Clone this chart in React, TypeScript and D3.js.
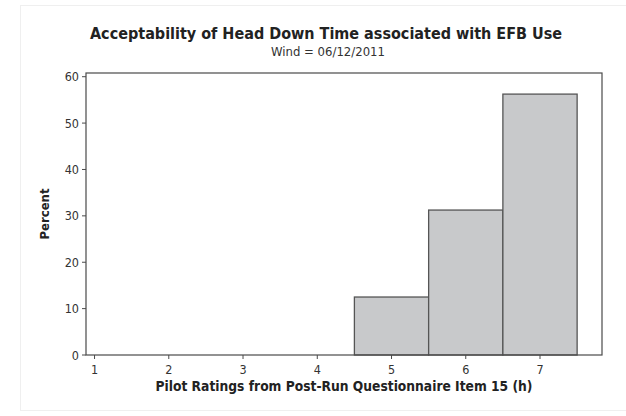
import React from "react";
import * as d3 from "d3";

const categories = [1, 2, 3, 4, 5, 6, 7];
const percents = [0, 0, 0, 0, 12.5, 31.25, 56.25];
const yTicks = [0, 10, 20, 30, 40, 50, 60];
const title = "Acceptability of Head Down Time associated with EFB Use";
const subtitle = "Wind = 06/12/2011";
const xLabel = "Pilot Ratings from Post-Run Questionnaire Item 15 (h)";
const yLabel = "Percent";

const W = 626;
const H = 416;
const plot = { left: 86, right: 602, top: 73, bottom: 355 };
const FONT = "'DejaVu Sans Condensed', 'DejaVu Sans', Verdana, sans-serif";
const FONT_REG = "'DejaVu Sans', Verdana, sans-serif";

export default function App() {
  const x = d3.scaleLinear().domain([0.885, 7.835]).range([plot.left, plot.right]);
  const y = d3.scaleLinear().domain([0, 60.8]).range([plot.bottom, plot.top]);
  const axisColor = "#4a4a4a";
  const textColor = "#333";

  return (
    <svg
      width={W}
      height={H}
      style={{ position: "absolute", left: 0, top: 0, background: "#fff" }}
    >
      <rect x={20.5} y={5.5} width={620} height={405} fill="#fff" stroke="#efefef" />
      <text x={326} y={39} textAnchor="middle" fontFamily={FONT} fontStretch="condensed" fontWeight="bold" fontSize={16} fill="#222">
        {title}
      </text>
      <text x={328} y={56} textAnchor="middle" fontFamily={FONT_REG} fontSize={11.7} fill={textColor}>
        {subtitle}
      </text>
      {categories.map((c, i) =>
        percents[i] > 0 ? (
          <rect
            key={c}
            x={x(c - 0.5)}
            y={y(percents[i])}
            width={x(c + 0.5) - x(c - 0.5)}
            height={y(0) - y(percents[i])}
            fill="#c8c9cb"
            stroke="#555"
            strokeWidth={1.3}
          />
        ) : null
      )}
      <rect
        x={plot.left}
        y={plot.top}
        width={plot.right - plot.left}
        height={plot.bottom - plot.top}
        fill="none"
        stroke={axisColor}
        strokeWidth={1.2}
      />
      {yTicks.map((t) => (
        <g key={t}>
          <line x1={plot.left - 4} x2={plot.left} y1={y(t)} y2={y(t)} stroke={axisColor} />
          <text x={plot.left - 7} y={y(t) + 4.5} textAnchor="end" fontFamily={FONT} fontStretch="condensed" fontSize={12.5} fill={textColor}>
            {t}
          </text>
        </g>
      ))}
      {categories.map((c) => (
        <g key={c}>
          <line x1={x(c)} x2={x(c)} y1={plot.bottom} y2={plot.bottom + 4} stroke={axisColor} />
          <text x={x(c)} y={plot.bottom + 19} textAnchor="middle" fontFamily={FONT} fontStretch="condensed" fontSize={12.5} fill={textColor}>
            {c}
          </text>
        </g>
      ))}
      <text x={344} y={391} textAnchor="middle" fontFamily={FONT} fontStretch="condensed" fontWeight="bold" fontSize={13.7} fill="#222">
        {xLabel}
      </text>
      <text
        transform={`translate(49,${(plot.top + plot.bottom) / 2}) rotate(-90)`}
        textAnchor="middle"
        fontFamily={FONT}
        fontStretch="condensed"
        fontWeight="bold"
        fontSize={13}
        fill="#222"
      >
        {yLabel}
      </text>
    </svg>
  );
}
